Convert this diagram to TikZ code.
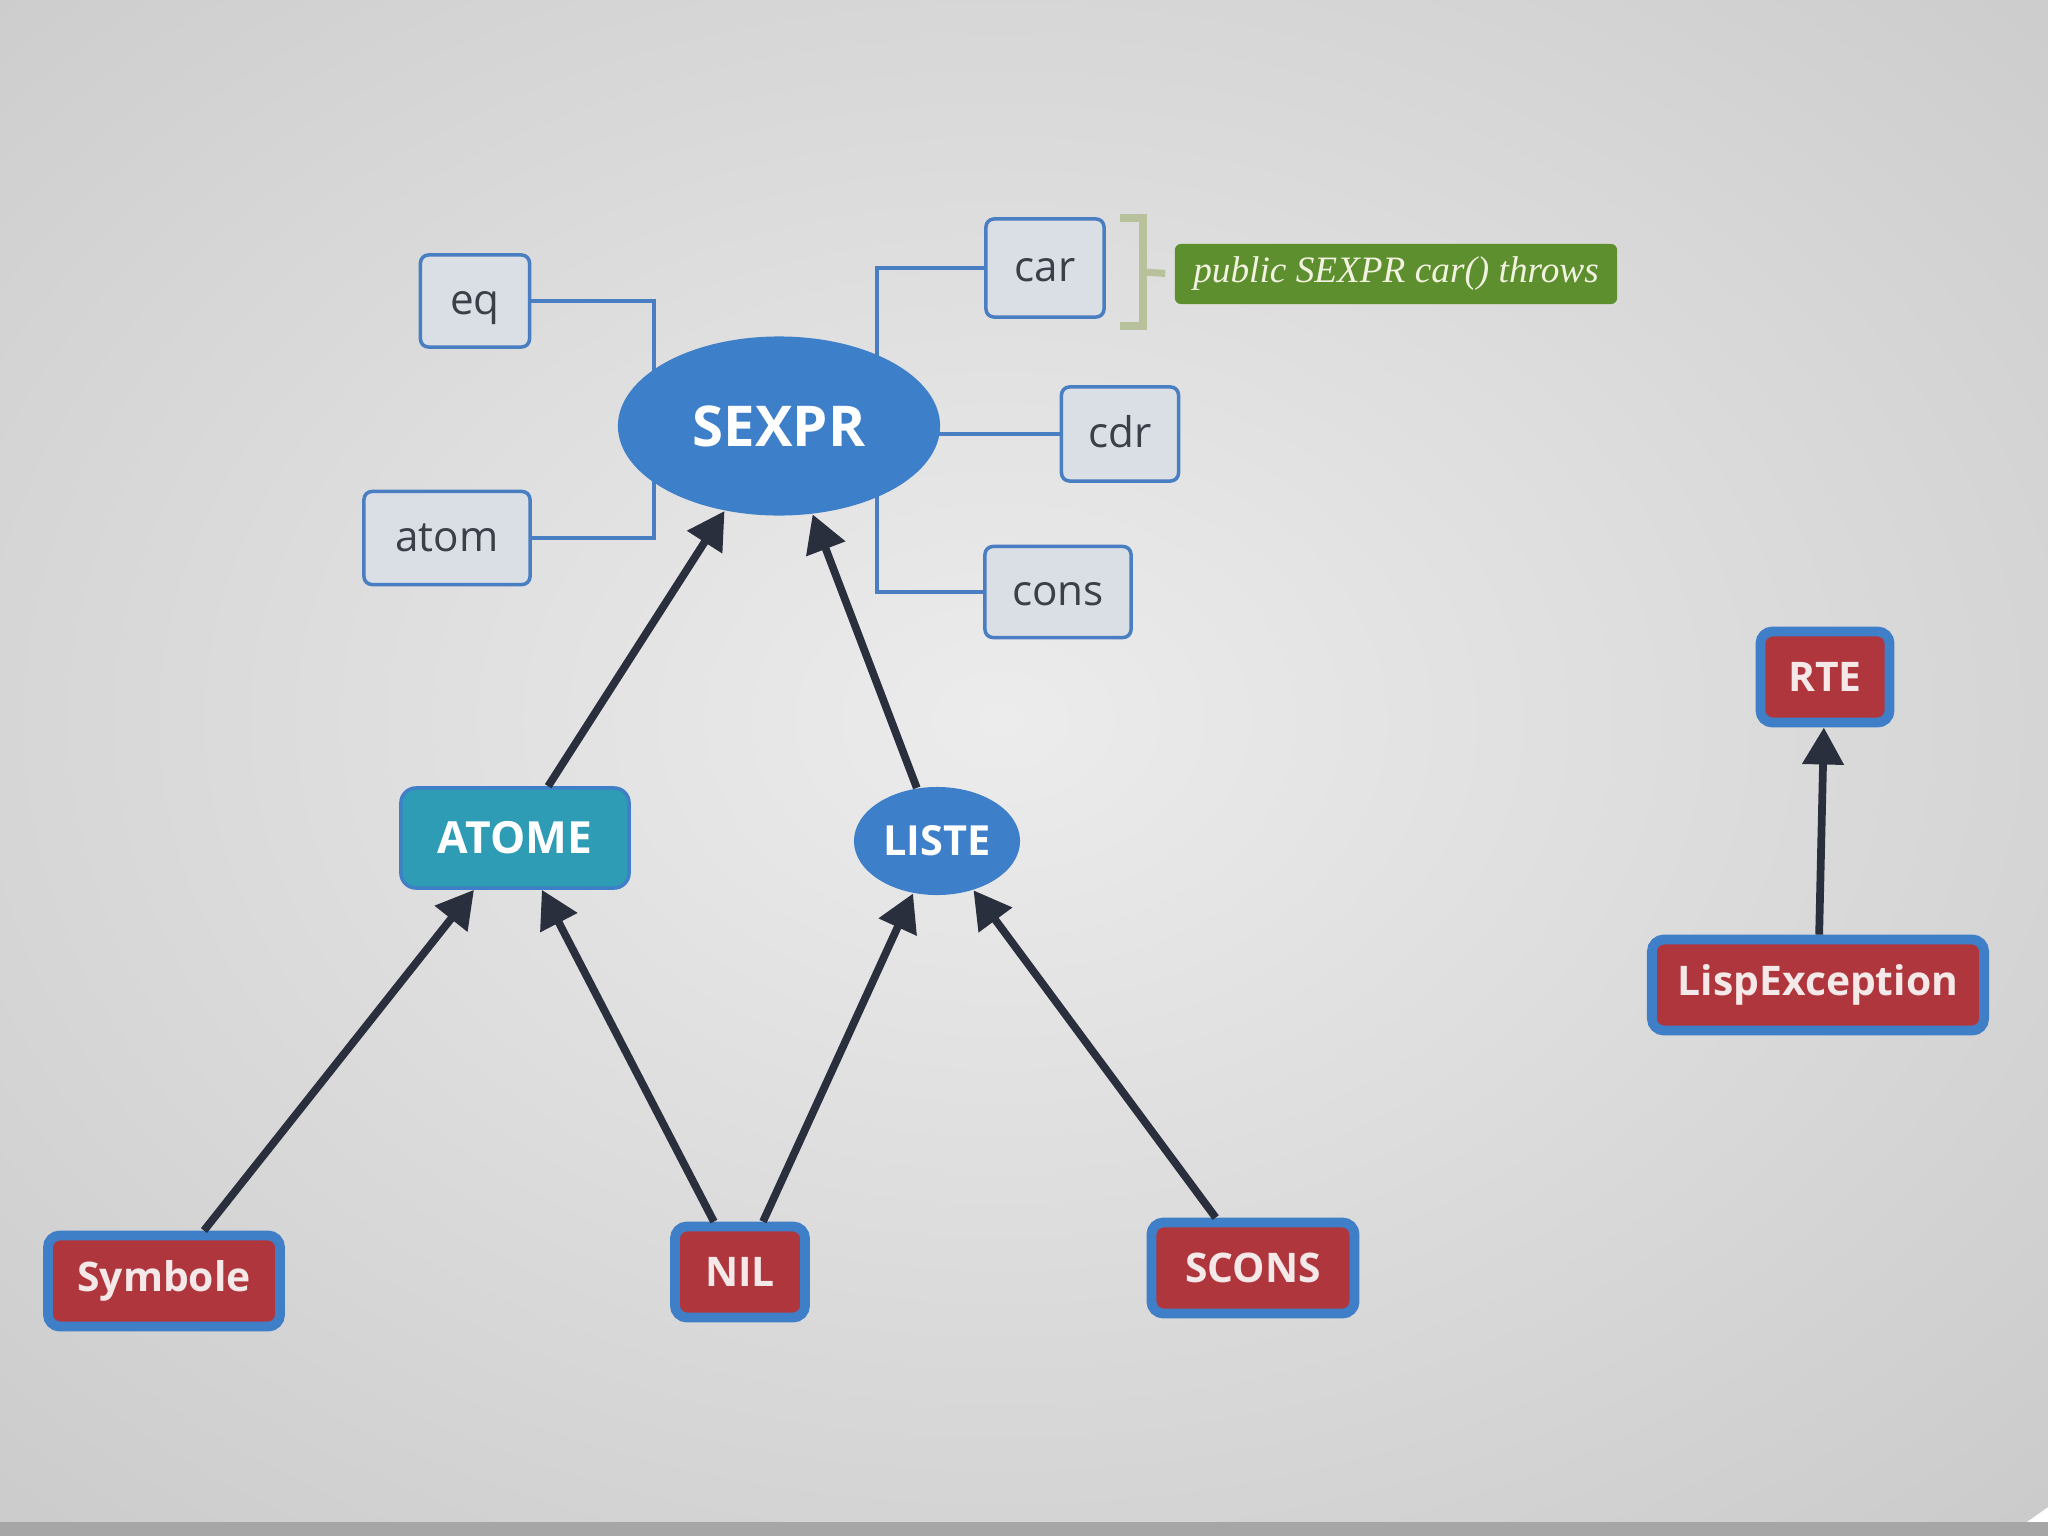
\documentclass[tikz,border=0pt]{standalone}
\usepackage{fontspec}
\setmainfont{Open Sans}
\newfontfamily\notefont{Liberation Serif}
\newfontfamily\labelfont{Open Sans}
\usetikzlibrary{shapes.geometric,arrows.meta,backgrounds}
\definecolor{bgin}{HTML}{ECECEC}
\definecolor{bgout}{HTML}{CBCBCB}
\definecolor{linkblue}{HTML}{4A7EC2}
\definecolor{boxfill}{HTML}{DADFE6}
\definecolor{boxtext}{HTML}{3A3F48}
\definecolor{sexprblue}{HTML}{3D7FC9}
\definecolor{atometeal}{HTML}{2E9CB4}
\definecolor{classred}{HTML}{B0363D}
\definecolor{classedge}{HTML}{3F7FC8}
\definecolor{classtext}{HTML}{F4E9E8}
\definecolor{notegreen}{HTML}{5E8F2F}
\definecolor{notetext}{HTML}{F1F2E0}
\definecolor{arrowc}{HTML}{2A2F3D}
\definecolor{bracketc}{HTML}{B7C19C}
\begin{document}
\begin{tikzpicture}[x=0.01cm,y=-0.01cm,
  method/.style={draw=linkblue, fill=boxfill, line width=1pt, rounded corners=0.08cm,
    text=boxtext, text height=1.4ex, text depth=0pt, font=\fontsize{12}{14}\selectfont},
  ell/.style={ellipse, fill=sexprblue, inner sep=0pt, text=white},
  classbox/.style={draw=classedge, line width=2.8pt, fill=classred, rounded corners=0.12cm,
    text=classtext, minimum height=0.91cm, font=\labelfont\bfseries\fontsize{11.6}{14}\selectfont},
  link/.style={draw=linkblue, line width=0.9pt},
  inh/.style={-{Triangle[length=0.37cm,width=0.4cm]}, draw=arrowc, line width=2.2pt},
  bracket/.style={draw=bracketc, line width=2pt}]
  \useasboundingbox (0,0) rectangle (2048,1536);

  \node[ell, minimum width=3.22cm, minimum height=1.79cm, font=\labelfont\bfseries\fontsize{16}{19}\selectfont] (sexpr) at (779,426) {SEXPR};
  \node[method, minimum width=1.09cm, minimum height=0.92cm] (eq) at (475,301) {eq};
  \node[method, minimum width=1.66cm, minimum height=0.93cm] (atom) at (447,538) {atom};
  \node[method, minimum width=1.18cm, minimum height=0.98cm] (car) at (1045,268) {car};
  \node[method, minimum width=1.17cm, minimum height=0.94cm] (cdr) at (1120,434) {cdr};
  \node[method, minimum width=1.46cm, minimum height=0.91cm] (cons) at (1058,592) {cons};
  \node[fill=notegreen, rounded corners=0.06cm, text=notetext, minimum width=4.42cm, minimum height=0.6cm,
    font=\notefont\itshape\fontsize{10.6}{13}\selectfont] (note) at (1396,274) {public SEXPR car() throws};

  \node[draw=classedge, line width=1pt, fill=atometeal, rounded corners=0.15cm, text=white,
    minimum width=2.28cm, minimum height=1.0cm, font=\labelfont\bfseries\fontsize{12.6}{15}\selectfont] (atome) at (515,838) {ATOME};
  \node[ell, minimum width=1.66cm, minimum height=1.08cm, font=\labelfont\bfseries\fontsize{11.8}{14}\selectfont] (liste) at (937,841) {LISTE};

  \node[classbox, minimum width=2.32cm] (symbole) at (164,1281) {Symbole};
  \node[classbox, minimum width=1.30cm] (nil) at (740,1272) {NIL};
  \node[classbox, minimum width=2.03cm] (scons) at (1253,1268) {SCONS};
  \node[classbox, minimum width=1.29cm] (rte) at (1825,677) {RTE};
  \node[classbox, minimum width=3.32cm] (lispexc) at (1818,985) {LispException};

  \draw[inh] (atome) -- (sexpr);
  \draw[inh] (liste) -- (sexpr);
  \draw[inh] (symbole) -- (atome);
  \draw[inh] (nil) -- (atome);
  \draw[inh] (nil) -- (liste);
  \draw[inh] (scons) -- (liste);
  \draw[inh] (lispexc) -- (rte);

  % note bracket on car
  \coordinate (brtop) at (1120,218);
  \coordinate (brbot) at (1120,326);
  \coordinate (brmid) at (1143,272);
  \draw[bracket] (brtop) -- ++(23,0) -- ++(0,108) -- (brbot);
  \draw[bracket, shorten >=0.09cm] (brmid) -- (note.west);

  \begin{scope}[on background layer]
    \begin{scope}
      \clip (0,0) rectangle (2048,1536);
      \shade[inner color=bgin, outer color=bgout] (1000,720) ellipse [x radius=1500, y radius=1100];
      \fill[gray!70] (0,1522) rectangle (2048,1536);
    \end{scope}
    \draw[link] (eq.east) -| ([xshift=-1.25cm]sexpr.center);
    \draw[link] (atom.east) -| ([xshift=-1.25cm]sexpr.center);
    \draw[link] (car.west) -| ([xshift=0.98cm]sexpr.center);
    \draw[link] (cons.west) -| ([xshift=0.98cm]sexpr.center);
    \draw[link] (cdr.west) -- (sexpr.center |- cdr.west);
  \end{scope}
\end{tikzpicture}
\end{document}
